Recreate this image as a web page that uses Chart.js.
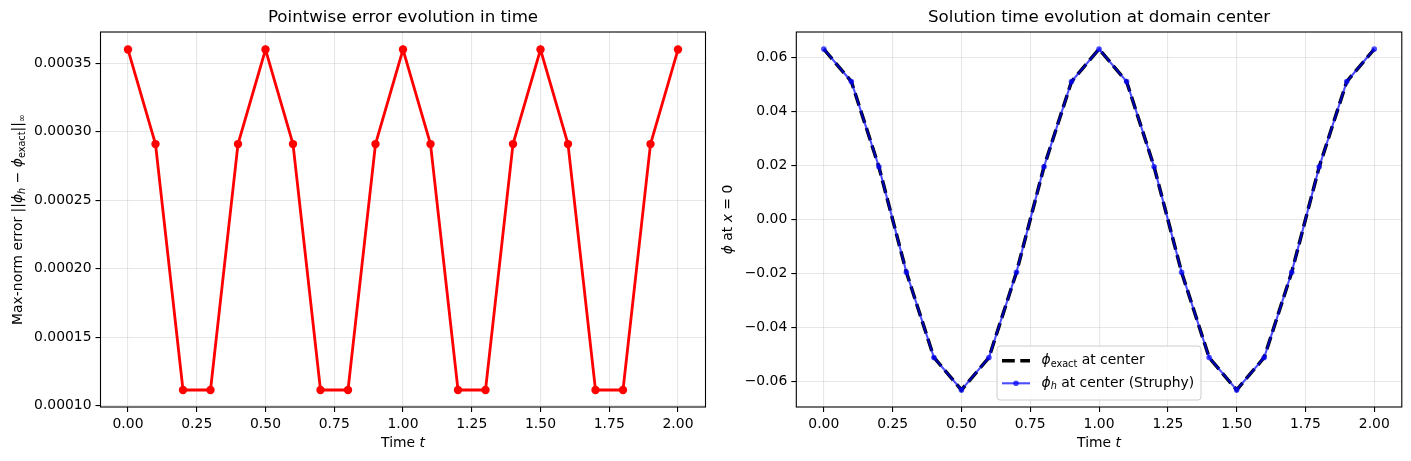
<!DOCTYPE html>
<html>
<head>
<meta charset="utf-8">
<script src="https://cdn.jsdelivr.net/npm/chart.js@4.4.1/dist/chart.umd.min.js"></script>
<style>
    html, body { margin: 0; padding: 0; background: #fff; }
    .wrap { position: absolute; top: 0; height: 461px; }
</style>
</head>
<body>
<div class="wrap" style="left:0;width:711px"><canvas id="errorChart" width="711" height="461"></canvas></div>
<div class="wrap" style="left:711px;width:700px"><canvas id="solutionChart" width="700" height="461"></canvas></div>
<script>
// datos
const timeVals = [0.0, 0.1, 0.2, 0.3, 0.4, 0.5, 0.6, 0.7, 0.8, 0.9, 1.0,
                  1.1, 1.2, 1.3, 1.4, 1.5, 1.6, 1.7, 1.8, 1.9, 2.0];
const errorVals = [0.000360, 0.000291, 0.0001115, 0.0001115, 0.000291, 0.000360, 0.000291,
                   0.0001115, 0.0001115, 0.000291, 0.000360, 0.000291, 0.0001115, 0.0001115,
                   0.000291, 0.000360, 0.000291, 0.0001115, 0.0001115, 0.000291, 0.000360];
const phiExactVals = [0.0630, 0.0510, 0.0195, -0.0195, -0.0510, -0.0630, -0.0510, -0.0195, 0.0195, 0.0510, 0.0630,
                      0.0510, 0.0195, -0.0195, -0.0510, -0.0630, -0.0510, -0.0195, 0.0195, 0.0510, 0.0630];
const phiNumVals = [0.0630, 0.0510, 0.0195, -0.0195, -0.0510, -0.0630, -0.0510, -0.0195, 0.0195, 0.0510, 0.0630,
                    0.0510, 0.0195, -0.0195, -0.0510, -0.0630, -0.0510, -0.0195, 0.0195, 0.0510, 0.0630];

const timeTicks = [0, 0.25, 0.5, 0.75, 1.0, 1.25, 1.5, 1.75, 2.0];
const errorTicks = [0.00010, 0.00015, 0.00020, 0.00025, 0.00030, 0.00035];
const phiTicks = [-0.06, -0.04, -0.02, 0.0, 0.02, 0.04, 0.06];

const timeRange = [-0.1, 2.1];
const errorRange = [0.0000991, 0.0003728];
const phiRange = [-0.0693, 0.0693];

const FONT = 'DejaVu Sans';
const TICK_SIZE = 13.9;
const SUB_SIZE = 9.7;

Chart.defaults.font.family = FONT;
Chart.defaults.font.size = TICK_SIZE;
Chart.defaults.color = '#000';

// texto con subindices (estilo mathtext)
const drawRich = (ctx, segs, cx, cy, rot, align = 'center') => {
    const fontOf = (s) => (s.italic ? 'italic ' : '') + (s.sub ? SUB_SIZE : TICK_SIZE) + 'px "' + FONT + '"';
    ctx.save();
    let total = 0;
    segs.forEach(s => { ctx.font = fontOf(s); total += ctx.measureText(s.t).width; });
    ctx.translate(cx, cy);
    ctx.rotate(rot);
    let x = align === 'center' ? -total / 2 : 0;
    ctx.fillStyle = '#000';
    ctx.textBaseline = 'middle';
    ctx.textAlign = 'left';
    segs.forEach(s => {
        ctx.font = fontOf(s);
        ctx.fillText(s.t, x, s.sub ? 3.5 : 0);
        x += ctx.measureText(s.t).width;
    });
    ctx.restore();
};

const frameAndLabels = {
    id: 'frameAndLabels',
    afterDraw: (chart, args, opts) => {
        const ctx = chart.ctx;
        const a = chart.chartArea;

        ctx.save();
        ctx.strokeStyle = '#000';
        ctx.lineWidth = 1.1;
        ctx.strokeRect(a.left, a.top, a.right - a.left, a.bottom - a.top);
        ctx.restore();

        drawRich(ctx, opts.xTitle, (a.left + a.right) / 2, 443, 0);
        drawRich(ctx, opts.yTitle, opts.yTitleX, (a.top + a.bottom) / 2, -Math.PI / 2);

        if (!opts.legend) return;
        const lx = a.left + 200.7;
        const ly = a.bottom - 61;
        const w = 204, h = 54;

        ctx.save();
        ctx.beginPath();
        ctx.roundRect(lx, ly, w, h, 3);
        ctx.fillStyle = 'rgba(255,255,255,0.8)';
        ctx.fill();
        ctx.strokeStyle = '#cccccc';
        ctx.lineWidth = 1;
        ctx.stroke();

        opts.legend.forEach((item, i) => {
            const y = ly + 14.7 + i * 22.6;
            ctx.beginPath();
            ctx.setLineDash(item.dash || []);
            ctx.strokeStyle = item.color;
            ctx.lineWidth = item.width;
            ctx.moveTo(lx + 5, y);
            ctx.lineTo(lx + 33, y);
            ctx.stroke();
            ctx.setLineDash([]);
            if (item.radius) {
                ctx.beginPath();
                ctx.fillStyle = item.color;
                ctx.arc(lx + 19, y, item.radius, 0, Math.PI * 2);
                ctx.fill();
            }
            drawRich(ctx, item.label, lx + 44.5, y, 0, 'left');
        });
        ctx.restore();
    }
};

const toPoints = (ys) => timeVals.map((t, i) => ({ x: t, y: ys[i] }));
const setTicks = (vals) => (axis) => { axis.ticks = vals.map(v => ({ value: v })); };
const minus = (v) => (v < 0 ? '\u2212' : '') + Math.abs(v).toFixed(2);

const gridStyle = {
    color: 'rgba(176,176,176,0.3)',
    lineWidth: 1.1,
    tickColor: '#000',
    tickLength: 5,
    tickWidth: 1.1
};

const xScale = (yWidthNone) => ({
    type: 'linear',
    min: timeRange[0],
    max: timeRange[1],
    afterBuildTicks: setTicks(timeTicks),
    afterFit: (scale) => { scale.height = 54; },
    ticks: { callback: (v) => v.toFixed(2), maxRotation: 0, autoSkip: false, padding: 4 },
    grid: gridStyle,
    border: { display: false }
});

const Charts = {
    error: {
        chart: null,
        create: (ctx) => {
            const config = {
                type: 'line',
                data: {
                    datasets: [{
                        data: toPoints(errorVals),
                        borderColor: '#ff0000',
                        backgroundColor: '#ff0000',
                        borderWidth: 2.8,
                        pointRadius: 4.2,
                        pointBorderWidth: 0,
                        pointBackgroundColor: '#ff0000',
                        tension: 0
                    }]
                },
                options: {
                    responsive: false,
                    animation: false,
                    layout: { padding: { left: 0, right: 5.5, top: 0, bottom: 0 } },
                    scales: {
                        x: xScale(),
                        y: {
                            min: errorRange[0],
                            max: errorRange[1],
                            afterBuildTicks: setTicks(errorTicks),
                            afterFit: (scale) => { scale.width = 100.5; },
                            ticks: { callback: (v) => v.toFixed(5), padding: 4 },
                            grid: gridStyle,
                            border: { display: false }
                        }
                    },
                    plugins: {
                        legend: { display: false },
                        tooltip: { enabled: false },
                        title: {
                            display: true,
                            text: 'Pointwise error evolution in time',
                            fullSize: false,
                            font: { size: 16.67, weight: 'normal' },
                            color: '#000',
                            padding: { top: 7.5, bottom: 4.5 }
                        },
                        frameAndLabels: {
                            xTitle: [{ t: 'Time ' }, { t: 't', italic: true }],
                            yTitle: [
                                { t: 'Max-norm error ||' },
                                { t: '\u03d5', italic: true },
                                { t: 'h', italic: true, sub: true },
                                { t: ' \u2212 ' },
                                { t: '\u03d5', italic: true },
                                { t: 'exact', sub: true },
                                { t: '||' },
                                { t: '\u221e', sub: true }
                            ],
                            yTitleX: 18.5
                        }
                    }
                },
                plugins: [frameAndLabels]
            };
            Charts.error.chart = new Chart(ctx, config);
        }
    },
    solution: {
        chart: null,
        create: (ctx) => {
            const config = {
                type: 'line',
                data: {
                    datasets: [{
                        data: toPoints(phiExactVals),
                        borderColor: '#000',
                        borderWidth: 3.5,
                        borderDash: [12.8, 5.5],
                        pointRadius: 0,
                        tension: 0,
                        order: 1
                    }, {
                        data: toPoints(phiNumVals),
                        borderColor: 'rgba(0,0,255,0.7)',
                        borderWidth: 2.1,
                        pointRadius: 2.8,
                        pointBorderWidth: 0,
                        pointBackgroundColor: 'rgba(0,0,255,0.7)',
                        tension: 0,
                        order: 0
                    }]
                },
                options: {
                    responsive: false,
                    animation: false,
                    layout: { padding: { left: 0, right: 9.2, top: 0, bottom: 0 } },
                    scales: {
                        x: xScale(),
                        y: {
                            min: phiRange[0],
                            max: phiRange[1],
                            afterBuildTicks: setTicks(phiTicks),
                            afterFit: (scale) => { scale.width = 85.3; },
                            ticks: { callback: minus, padding: 4 },
                            grid: gridStyle,
                            border: { display: false }
                        }
                    },
                    plugins: {
                        legend: { display: false },
                        tooltip: { enabled: false },
                        title: {
                            display: true,
                            text: 'Solution time evolution at domain center',
                            fullSize: false,
                            font: { size: 16.67, weight: 'normal' },
                            color: '#000',
                            padding: { top: 7.5, bottom: 4.5 }
                        },
                        frameAndLabels: {
                            xTitle: [{ t: 'Time ' }, { t: 't', italic: true }],
                            yTitle: [
                                { t: '\u03d5', italic: true },
                                { t: ' at ' },
                                { t: 'x', italic: true },
                                { t: ' = 0' }
                            ],
                            yTitleX: 17,
                            legend: [
                                {
                                    color: '#000', width: 3.5, dash: [12.8, 5.5],
                                    label: [{ t: '\u03d5', italic: true }, { t: 'exact', sub: true }, { t: ' at center' }]
                                },
                                {
                                    color: 'rgba(0,0,255,0.7)', width: 2.1, radius: 2.8,
                                    label: [{ t: '\u03d5', italic: true }, { t: 'h', italic: true, sub: true }, { t: ' at center (Struphy)' }]
                                }
                            ]
                        }
                    }
                },
                plugins: [frameAndLabels]
            };
            Charts.solution.chart = new Chart(ctx, config);
        }
    }
};

Charts.error.create(document.getElementById('errorChart'));
Charts.solution.create(document.getElementById('solutionChart'));
</script>
</body>
</html>
